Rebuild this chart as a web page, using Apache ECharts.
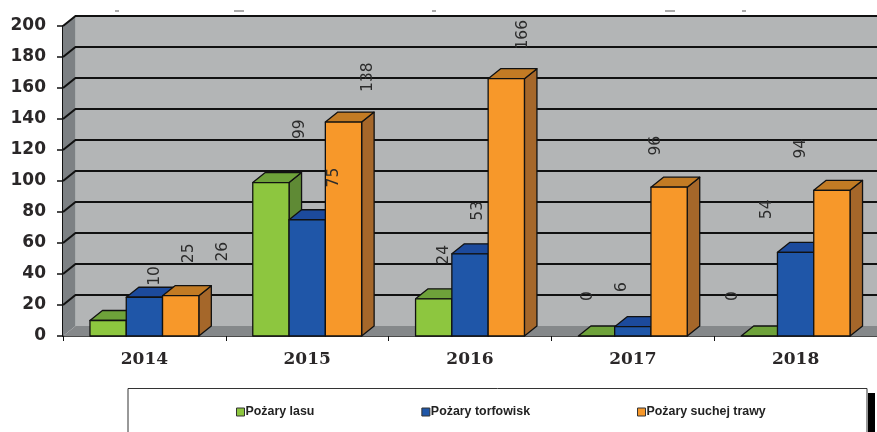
<!DOCTYPE html>
<html><head><meta charset="utf-8">
<style>html,body{margin:0;padding:0;background:#fff}#c{width:877px;height:432px}</style>
<script src="https://cdn.jsdelivr.net/npm/echarts@6/dist/echarts.min.js"></script>
</head><body><div id="c"></div>
<script>
const categories = ['2014','2015','2016','2017','2018'];
const pozaryLasu = [10,99,24,0,0];
const pozaryTorfowisk = [25,75,53,6,54];
const pozarySuchejTrawy = [26,138,166,96,94];
const yTicks = [20,40,60,80,100,120,140,160,180,200];
const names = ['Pożary lasu','Pożary torfowisk','Pożary suchej trawy'];
const front = ['#8dc63f','#1f56a8','#f7982a'];
const topC = ['#6ea23a','#1c4a9c','#c27b24'];
const sideC = ['#5f8a35','#173f80','#a5672a'];
const DX = 12.5, DY = 10, BAR = 0.2229;
const INK = '#111';
// the source's labels are not quite regular: small per-label nudges, keyed "series:category"
// (the offset is in the label's rotated frame: first = up, second = right)
const labelNudge = {'0:1':[12,0], '2:2':[0,11]};
// remains of a cropped-off title along the top edge: [x, width]
const titleScraps = [[115,4],[234,10],[432,4],[665,10],[742,4]];

function poly(points, fill){
  return {type:'polygon', shape:{points}, style:{fill, stroke:INK, lineWidth:1.3, lineJoin:'round'}};
}
function barRenderer(si){
  return function(params, api){
    const cat = api.value(0), val = api.value(1);
    const p = api.coord([cat,val]), b = api.coord([cat,0]);
    const w = api.size([1,0])[0]*BAR;
    const x0 = p[0] + (si-1.5)*w, x1 = x0 + w, yt = p[1], yb = b[1];
    const kids = [];
    kids.push(poly([[x1,yb],[x1+DX,yb-DY],[x1+DX,yt-DY],[x1,yt]], sideC[si]));
    kids.push(poly([[x0,yt],[x0+DX,yt-DY],[x1+DX,yt-DY],[x1,yt]], topC[si]));
    if (val>0) kids.push(poly([[x0,yt],[x1,yt],[x1,yb],[x0,yb]], front[si]));
    return {type:'group', children:kids};
  };
}
function wallRenderer(params, api){
  const c = params.coordSys;
  const yTop = api.coord([0,200])[1], y0 = api.coord([0,0])[1], xl = c.x, xr = c.x+c.width+DX;
  return {type:'group', children:[
    {type:'polygon', shape:{points:[[xl+DX,yTop-DY],[xr,yTop-DY],[xr,y0-DY],[xl+DX,y0-DY]]}, style:{fill:'#b3b5b6'}},
    {type:'polygon', shape:{points:[[xl,yTop],[xl+DX,yTop-DY],[xl+DX,y0-DY],[xl,y0]]}, style:{fill:'#7d8184'}},
    {type:'polygon', shape:{points:[[xl,y0],[xl+DX,y0-DY],[xr,y0-DY],[xr,y0]]}, style:{fill:'#85888a'}}
  ]};
}
function gridRenderer(params, api){
  const c = params.coordSys, y = api.coord([0,api.value(0)])[1];
  return {type:'polyline', shape:{points:[[c.x,y],[c.x+DX,y-DY],[c.x+c.width+DX,y-DY]]},
    style:{stroke:INK, lineWidth:2, fill:null}};
}

const series = [
  {type:'custom', name:'wall', xAxisIndex:0,yAxisIndex:0, z:1, clip:false, silent:true, data:[[0]], renderItem:wallRenderer},
  {type:'custom', name:'grid', xAxisIndex:0,yAxisIndex:0, z:2, clip:false, silent:true, data:yTicks.map(v=>[v]), encode:{y:0}, renderItem:gridRenderer}
];
[pozaryLasu,pozaryTorfowisk,pozarySuchejTrawy].forEach((vals,si)=>{
  series.push({type:'custom', name:names[si], xAxisIndex:0,yAxisIndex:0, z:3+si, clip:false,
    itemStyle:{color:front[si]}, data:vals.map((v,i)=>[i,v]), encode:{x:0,y:1}, renderItem:barRenderer(si)});
  series.push({type:'bar', name:'etykieta '+si, xAxisIndex:1,yAxisIndex:1, z:10, barWidth:34, barGap:0, silent:true,
    itemStyle:{color:'transparent'},
    data:vals.map((v,i)=>{
      const n = labelNudge[si+':'+i];
      return n ? {value:v, label:{offset:n}} : v;
    }),
    label:{show:true, position:'top', distance:2, rotate:90, align:'left', verticalAlign:'middle',
      fontFamily:'DejaVu Sans', fontSize:15.5, color:'#2c2c2c'}});
});

const chart = echarts.init(document.getElementById('c'),null,{renderer:'canvas'});
chart.setOption({
  animation:false,
  backgroundColor:'#fff',
  grid:[
    {left:63, top:26, width:814, height:310},
    {left:117, top:-7, width:722, height:310}
  ],
  xAxis:[
    {type:'category', gridIndex:0, data:categories,
     axisLine:{lineStyle:{color:INK,width:1.5}}, axisTick:{show:true,length:5,alignWithLabel:false,lineStyle:{color:INK}},
     axisLabel:{fontFamily:'DejaVu Serif',fontWeight:'bold',fontSize:17,color:'#2a2728',margin:15}},
    {type:'category', gridIndex:1, data:categories, show:false}
  ],
  yAxis:[
    {type:'value', gridIndex:0, min:0, max:200, interval:20, splitLine:{show:false},
     axisLine:{show:true,lineStyle:{color:INK,width:2}}, axisTick:{show:true,length:6,lineStyle:{color:INK,width:1.5}},
     axisLabel:{fontFamily:'DejaVu Sans',fontWeight:'bold',fontSize:17,color:'#2a2728',margin:17}},
    {type:'value', gridIndex:1, min:0, max:200, show:false, splitLine:{show:false}}
  ],
  legend:{data:names, left:231, top:401, itemWidth:8, itemHeight:8, itemGap:107, icon:'rect',
    selectedMode:false,
    itemStyle:{borderColor:'#333',borderWidth:1},
    textStyle:{fontFamily:'Liberation Sans',fontWeight:'bold',fontSize:12.4,color:'#222',padding:[0,0,0,-4]}},
  graphic:[
    {type:'rect', z:-1, shape:{x:868,y:393,width:7,height:39}, style:{fill:'#000'}},
    {type:'rect', z:-1, shape:{x:128,y:388.5,width:739,height:60}, style:{fill:'#fff',stroke:'#333',lineWidth:1}}
  ].concat(titleScraps.map(([x,w])=>({type:'rect', z:-1, shape:{x,y:10.5,width:w,height:1}, style:{fill:'#555'}}))),
  series
});
</script></body></html>
